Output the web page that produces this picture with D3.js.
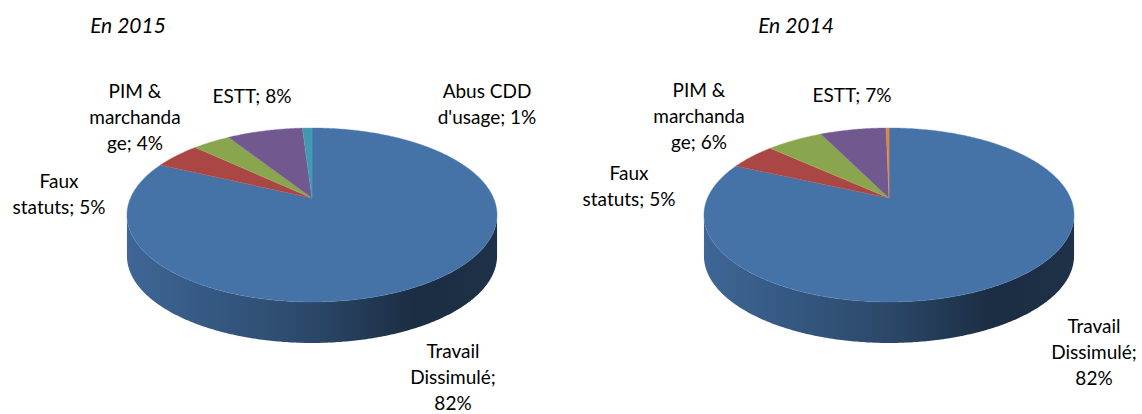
<!DOCTYPE html>
<html>
<head>
<meta charset="utf-8">
<script src="https://cdn.jsdelivr.net/npm/d3@7"></script>
<style>
  body { margin: 0; background: #fff; }
  text { font-family: Lato, "Open Sans", sans-serif; fill: #000; }
</style>
</head>
<body>
<script>
// deux camemberts 3D (2015 / 2014)
const width = 1142, height = 414;

const categories = ["Travail Dissimulé", "Faux statuts", "PIM & marchandage", "ESTT", "Abus CDD d'usage", "Autres"];
const values2015 = [82, 5, 4, 8, 1, 0];
const values2014 = [82, 5, 6, 7, 0, 0.3];
const titles = ["En 2015", "En 2014"];
const colors = ["#4572A7", "#AA4643", "#89A54E", "#71588F", "#4198AF", "#DB843D"];

// découpage des étiquettes comme dans Excel (le % est ajouté à la dernière ligne)
const labelLines = [
    ["Travail", "Dissimulé;", "{p}"],
    ["Faux", "statuts; {p}"],
    ["PIM &", "marchanda", "ge; {p}"],
    ["ESTT; {p}"],
    ["Abus CDD", "d'usage; {p}"],
    []
];

// géométrie de la perspective
const RX = 181.5, RY = 83.7, P = 0.195, DEPTH = 41;
const charts = [
    { values: values2015, cx: 312, cy: 198, titleX: 128,
      labelPos: [[141, 160], [-253, -10], [-177, -100], [-60, -95], [175, -100], [0, 0]] },
    { values: values2014, cx: 889, cy: 198, titleX: 796,
      labelPos: [[205, 135], [-260, -18], [-190, -101], [-37, -96], [0, 0], [0, 0]] }
];

const svg = d3.select("body").append("svg")
    .attr("width", width)
    .attr("height", height);

const defs = svg.append("defs");

function proj(t, cx, cy, dy = 0) {
    const u = Math.sin(t), v = -Math.cos(t);
    const s = 1 / (1 - P * v);
    return [cx + RX * u * s, cy + RY * v * s + dy];
}

function arcPoints(a0, a1, cx, cy, dy = 0) {
    const n = Math.max(2, Math.ceil((a1 - a0) / 0.01));
    const pts = [];
    for (let i = 0; i <= n; i++) pts.push(proj(a0 + (a1 - a0) * i / n, cx, cy, dy));
    return pts;
}

const pie = d3.pie().sort(null).value(d => d);
const line = d3.line();
const T1 = Math.acos(-P), T2 = 2 * Math.PI - T1;

charts.forEach((c, ci) => {
    const arcs = pie(c.values);
    const g = svg.append("g");

    // gradient pour les faces latérales
    arcs.forEach((a, i) => {
        const base = d3.color(colors[i]);
        const grad = defs.append("linearGradient")
            .attr("id", `side-${ci}-${i}`)
            .attr("gradientUnits", "userSpaceOnUse")
            .attr("x1", c.cx - RX * 1.02).attr("x2", c.cx + RX * 1.02)
            .attr("y1", 0).attr("y2", 0);
        [[0, 0.3], [0.5, 1.3], [0.78, 2.6], [1, 2.35]].forEach(([o, k]) => {
            grad.append("stop").attr("offset", o).attr("stop-color", base.darker(k));
        });
    });

    // faces latérales visibles (avant)
    arcs.forEach((a, i) => {
        const s0 = Math.max(a.startAngle, T1), s1 = Math.min(a.endAngle, T2);
        if (s1 <= s0) return;
        const top = arcPoints(s0, s1, c.cx, c.cy);
        const bot = arcPoints(s0, s1, c.cx, c.cy, DEPTH).reverse();
        g.append("path")
            .attr("d", line(top.concat(bot)) + "Z")
            .attr("fill", `url(#side-${ci}-${i})`);
    });

    // face supérieure
    arcs.forEach((a, i) => {
        if (a.endAngle - a.startAngle <= 0) return;
        const pts = [[c.cx, c.cy]].concat(arcPoints(a.startAngle, a.endAngle, c.cx, c.cy));
        g.append("path")
            .attr("d", line(pts) + "Z")
            .attr("fill", colors[i])
            .attr("stroke", d3.color(colors[i]).brighter(0.4))
            .attr("stroke-width", 0.4);
    });

    // étiquettes
    const total = d3.sum(c.values);
    arcs.forEach((a, i) => {
        const pct = Math.round(a.data / total * 100);
        if (a.data / total < 0.005) return;
        const [ox, oy] = c.labelPos[i];
        const t = g.append("text")
            .attr("text-anchor", "middle")
            .attr("font-size", "19px");
        labelLines[i].forEach((l, li) => {
            t.append("tspan")
                .attr("x", c.cx + ox)
                .attr("y", c.cy + oy + li * 26)
                .text(l.replace("{p}", pct + "%"));
        });
    });

    svg.append("text")
        .attr("x", c.titleX)
        .attr("y", 33)
        .attr("text-anchor", "middle")
        .attr("font-size", "21px")
        .attr("font-style", "italic")
        .text(titles[ci]);
});
</script>
</body>
</html>
